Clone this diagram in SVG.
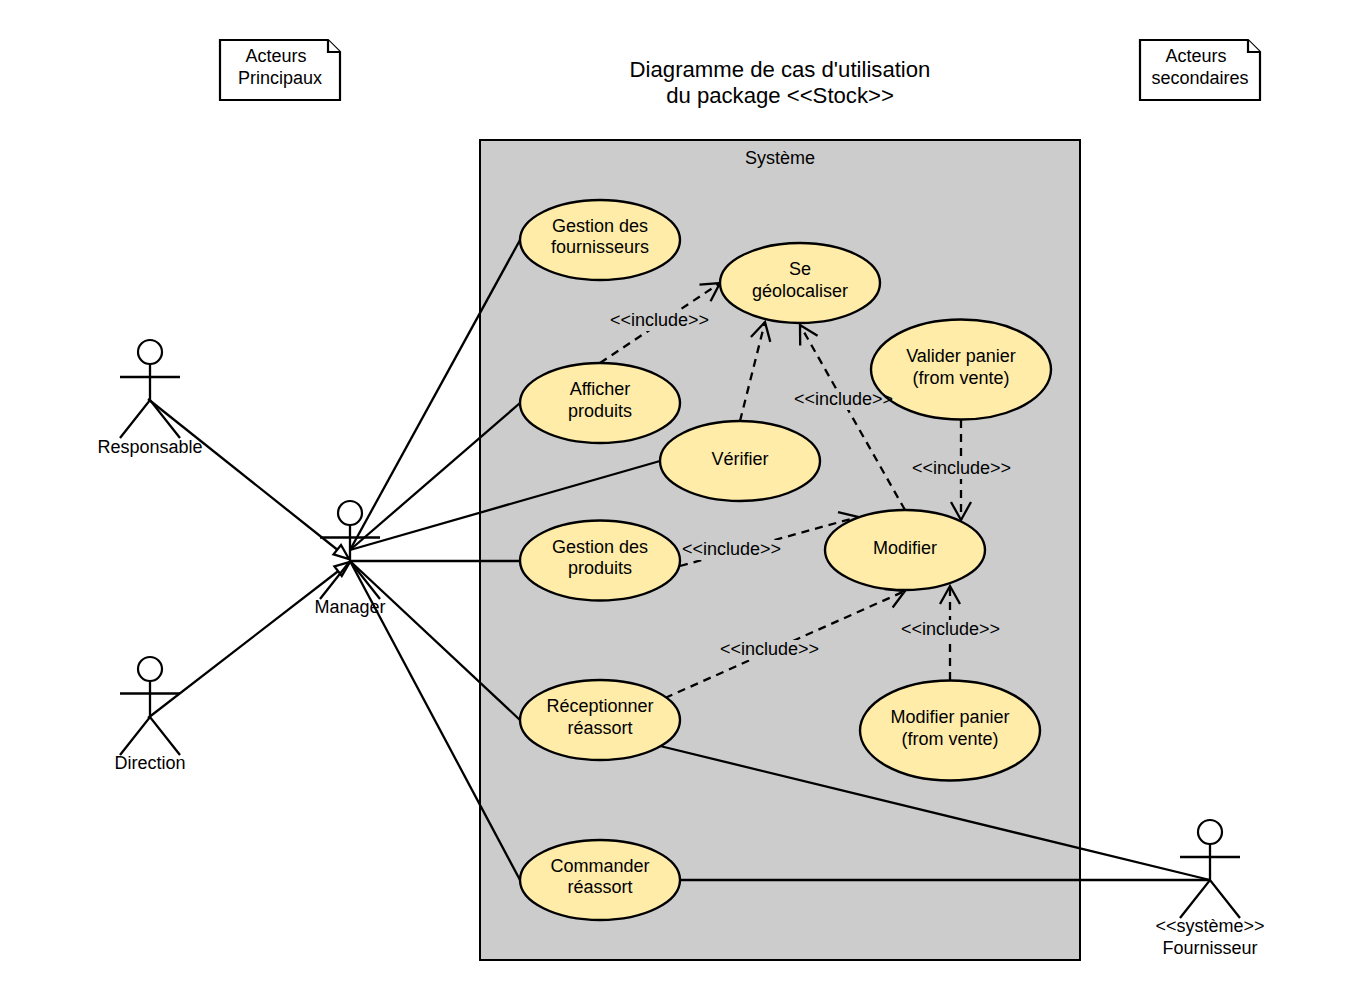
<svg xmlns="http://www.w3.org/2000/svg" width="1360" height="1000" viewBox="0 0 1360 1000">
<style>
text{font-family:"Liberation Sans",Arial,sans-serif;font-size:18px;fill:#000;text-anchor:middle}
.t{font-size:22.150px}
.u ellipse{fill:#ffeca9;stroke:#000;stroke-width:2.400}
.a circle{fill:#fff;stroke:#000;stroke-width:2.200}
.a path,.c path{fill:none;stroke:#000;stroke-width:2.300}
.n path{fill:#fff;stroke:#000;stroke-width:2.200;stroke-linejoin:miter}
.c .d{stroke-dasharray:8 6;marker-end:url(#open)}
.c .g{marker-end:url(#tri)}
.b{fill:#ccc}
</style>
<defs>
<marker id="open" markerUnits="userSpaceOnUse" markerWidth="26" markerHeight="26" viewBox="-22 -13 26 26" refX="0" refY="0" orient="auto"><path d="M-18-10L0 0L-18 10" fill="none" stroke="#000" stroke-width="2.300"/></marker>
<marker id="tri" markerUnits="userSpaceOnUse" markerWidth="20" markerHeight="20" viewBox="-17 -9 20 20" refX="0" refY="0" orient="auto"><path d="M-15-6L0 0L-15 6Z" fill="#fff" stroke="#000" stroke-width="2.300"/></marker>
</defs>
<rect width="1360" height="1000" fill="#fff"/>
<g id="system"><rect x="480" y="140" width="600" height="820" fill="#ccc" stroke="#000" stroke-width="2"/><text x="780" y="164">Système</text></g>
<g id="title"><text class="t" x="780" y="77">Diagramme de cas d'utilisation</text><text class="t" x="780" y="103">du package &lt;&lt;Stock&gt;&gt;</text></g>
<g id="note-principaux" class="n"><path d="M220 40H328L340 52V100H220Z"/><path d="M328 40V52H340"/><text x="276" y="62">Acteurs</text><text x="280" y="84">Principaux</text></g>
<g id="note-secondaires" class="n"><path d="M1140 40H1248L1260 52V100H1140Z"/><path d="M1248 40V52H1260"/><text x="1196" y="62">Acteurs</text><text x="1200" y="84">secondaires</text></g>
<g id="connectors" class="c">
<path d="M350 550L520 240"/><path d="M350 550L520 403"/><path d="M350 550L660 461"/><path d="M350 561H520"/><path d="M350 561L520 720"/><path d="M350 561L520 880"/>
<path d="M660 746L1210 880"/><path d="M680 880H1210"/>
<path class="g" d="M148 399L349 559"/><path class="g" d="M148 718L350 562"/>
<path class="d" d="M600 363L720 283"/><path class="d" d="M740 421L765 322"/><path class="d" d="M905 510L800 325"/><path class="d" d="M961 420V520"/><path class="d" d="M680 566L858 517"/><path class="d" d="M665 698L905 591"/><path class="d" d="M950 680V586"/>
<rect class="b" x="610" y="311" width="99" height="20"/><rect class="b" x="794" y="390" width="99" height="20"/><rect class="b" x="912" y="459" width="99" height="20"/><rect class="b" x="682" y="540" width="99" height="20"/><rect class="b" x="720" y="640" width="99" height="20"/><rect class="b" x="901" y="620" width="99" height="20"/>
</g>
<g id="actor-responsable" class="a"><circle cx="150" cy="352" r="12"/><path d="M150 364V400M120 377H180M120 438L150 400L180 438"/><text x="150" y="452.500">Responsable</text></g>
<g id="actor-manager" class="a"><circle cx="350" cy="513" r="12"/><path d="M350 525V561M320 537.500H380M320 599L350 561L380 599"/><text x="350" y="613">Manager</text></g>
<g id="actor-direction" class="a"><circle cx="150" cy="669" r="12"/><path d="M150 681V717M120 693.500H180M120 755L150 717L180 755"/><text x="150" y="769">Direction</text></g>
<g id="actor-fournisseur" class="a"><circle cx="1210" cy="832" r="12"/><path d="M1210 844V880M1180 857H1240M1180 918L1210 880L1240 918"/><text x="1210" y="932">&lt;&lt;système&gt;&gt;</text><text x="1210" y="954">Fournisseur</text></g>
<g id="uc-fournisseurs" class="u"><ellipse cx="600" cy="240" rx="80" ry="40"/><text x="600" y="232">Gestion des</text><text x="600" y="253">fournisseurs</text></g>
<g id="uc-geolocaliser" class="u"><ellipse cx="800" cy="283" rx="80" ry="40"/><text x="800" y="275">Se</text><text x="800" y="297">géolocaliser</text></g>
<g id="uc-afficher" class="u"><ellipse cx="600" cy="403" rx="80" ry="40"/><text x="600" y="395">Afficher</text><text x="600" y="417">produits</text></g>
<g id="uc-valider" class="u"><ellipse cx="961" cy="369.500" rx="90" ry="50"/><text x="961" y="362">Valider panier</text><text x="961" y="384">(from vente)</text></g>
<g id="uc-verifier" class="u"><ellipse cx="740" cy="461" rx="80" ry="40"/><text x="740" y="465">Vérifier</text></g>
<g id="uc-produits" class="u"><ellipse cx="600" cy="560.500" rx="80" ry="40"/><text x="600" y="553">Gestion des</text><text x="600" y="574">produits</text></g>
<g id="uc-modifier" class="u"><ellipse cx="905" cy="550" rx="80" ry="40"/><text x="905" y="554">Modifier</text></g>
<g id="uc-reassort" class="u"><ellipse cx="600" cy="720" rx="80" ry="40"/><text x="600" y="712">Réceptionner</text><text x="600" y="734">réassort</text></g>
<g id="uc-panier" class="u"><ellipse cx="950" cy="730.500" rx="90" ry="50"/><text x="950" y="723">Modifier panier</text><text x="950" y="745">(from vente)</text></g>
<g id="uc-commander" class="u"><ellipse cx="600" cy="880" rx="80" ry="40"/><text x="600" y="872">Commander</text><text x="600" y="893">réassort</text></g>
<g id="connector-labels"><text x="659.500" y="326">&lt;&lt;include&gt;&gt;</text><text x="843.500" y="405">&lt;&lt;include&gt;&gt;</text><text x="961.500" y="474">&lt;&lt;include&gt;&gt;</text><text x="731.500" y="555">&lt;&lt;include&gt;&gt;</text><text x="769.500" y="655">&lt;&lt;include&gt;&gt;</text><text x="950.500" y="635">&lt;&lt;include&gt;&gt;</text></g>
</svg>
